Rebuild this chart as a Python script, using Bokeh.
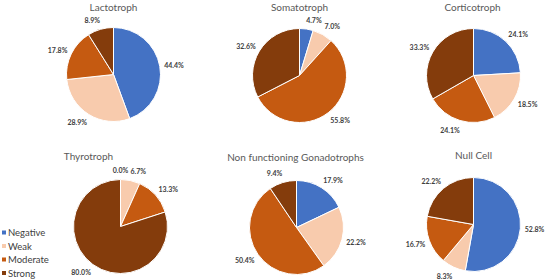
import numpy as np
from bokeh.plotting import figure
from bokeh.models import Range1d, ColumnDataSource
from bokeh.core.properties import value
from bokeh.embed import file_html
from bokeh.resources import INLINE

# Staining intensity categories and their colours
categories = ["Negative", "Weak", "Moderate", "Strong"]
colors = ["#4472C4", "#F8CBAD", "#C55A11", "#843C0C"]

# Share of cases (%) per category for each cell type
titles = ["Lactotroph", "Somatotroph", "Corticotroph",
          "Thyrotroph", "Non functioning Gonadotrophs", "Null Cell"]
lactotroph = [44.4, 28.9, 17.8, 8.9]
somatotroph = [4.7, 7.0, 55.8, 32.6]
corticotroph = [24.1, 18.5, 24.1, 33.3]
thyrotroph = [0.0, 6.7, 13.3, 80.0]
gonadotroph = [17.9, 22.2, 50.4, 9.4]
null_cell = [52.8, 8.3, 16.7, 22.2]
series = [lactotroph, somatotroph, corticotroph, thyrotroph, gonadotroph, null_cell]

# Page layout (pixels from top-left)
W, H = 546, 279
R = 47
centers = [(113, 74), (299, 75), (473, 75), (120, 226), (296, 227), (473, 224)]
title_pos = [(113, 6), (299, 6), (472, 6), (88, 155.5), (295, 156), (473, 154)]
legend_x, legend_y0, legend_dy = 3.5, 232, 13.5

p = figure(width=W, height=H, output_backend="svg", toolbar_location=None,
           x_range=Range1d(0, W), y_range=Range1d(0, H),
           x_axis_location=None, y_axis_location=None, min_border=0)
p.grid.visible = False
p.outline_line_color = None
p.background_fill_color = "white"

wx, wy, ws, we, wc = [], [], [], [], []
lx, ly, lt = [], [], []
for vals, (cx, cy_top) in zip(series, centers):
    cy = H - cy_top
    total = sum(vals)
    cum = 0.0
    for v, col in zip(vals, colors):
        f0 = cum / total
        f1 = (cum + v) / total
        cum += v
        if v > 0:
            wx.append(cx); wy.append(cy)
            ws.append(np.pi / 2 - 2 * np.pi * f0)
            we.append(np.pi / 2 - 2 * np.pi * f1)
            wc.append(col)
        # data label just outside the slice, at its mid angle
        a = 2 * np.pi * (f0 + f1) / 2
        sa, ca = np.sin(a), np.cos(a)
        if abs(sa) < 1e-9:
            sa = 0.0
        txt = f"{v:.1f}%"
        hw = 1.65 * len(txt)
        hh = 3.5
        lx.append(cx + (R + 6) * sa + hw * np.sign(sa))
        ly.append(cy + (R + 6) * ca + hh * ca)
        lt.append(txt)

p.wedge(x="x", y="y", radius=R, start_angle="s", end_angle="e", direction="clock",
        fill_color="c", line_color="white", line_width=1,
        source=ColumnDataSource(dict(x=wx, y=wy, s=ws, e=we, c=wc)))

p.text(x=lx, y=ly, text=lt, text_font=value("Lato"), text_font_size="7px",
       text_font_style="bold", text_color="#404040",
       text_align="center", text_baseline="middle")

# Chart titles
p.text(x=[t[0] for t in title_pos], y=[H - t[1] for t in title_pos], text=titles,
       text_font=value("Lato"), text_font_size="10px", text_color="#595959",
       text_align="center", text_baseline="middle")

# Legend
ly_leg = [H - (legend_y0 + i * legend_dy) for i in range(len(categories))]
p.scatter(x=[legend_x] * len(categories), y=ly_leg, marker="square", size=4,
          fill_color=colors, line_color=None)
p.text(x=[legend_x + 4] * len(categories), y=ly_leg, text=categories,
       text_font=value("Lato"), text_font_size="9.5px", text_color="#404040",
       text_align="left", text_baseline="middle")

open("out.html", "w").write(file_html(p, INLINE))
